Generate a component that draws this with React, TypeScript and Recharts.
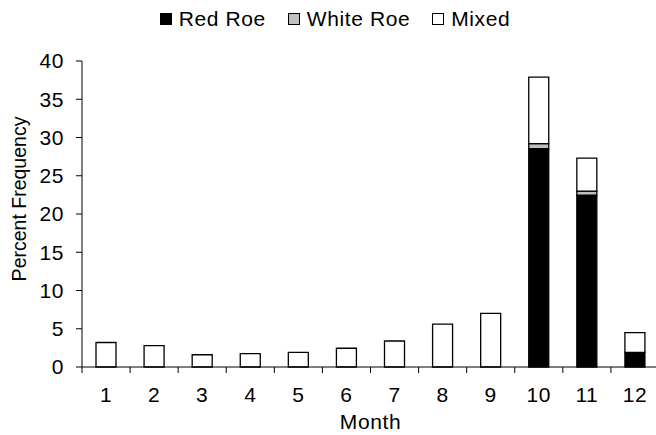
import { BarChart, Bar, XAxis, YAxis, Legend } from "recharts";

const months = ["1", "2", "3", "4", "5", "6", "7", "8", "9", "10", "11", "12"];
const redRoe = [0, 0, 0, 0, 0, 0, 0, 0, 0, 28.55, 22.45, 1.9];
const whiteRoe = [0, 0, 0, 0, 0, 0, 0, 0, 0, 0.65, 0.55, 0];
const mixed = [3.2, 2.8, 1.6, 1.75, 1.9, 2.45, 3.4, 5.6, 7.0, 8.7, 4.3, 2.6];
const yTicks = [0, 5, 10, 15, 20, 25, 30, 35, 40];

const data = months.map((m, i) => ({
  month: m,
  red: redRoe[i],
  white: whiteRoe[i],
  mixed: mixed[i],
}));

const W = 660;
const H = 435;
const Y_AXIS_W = 82;
const RIGHT = 1;
const BAND = (W - Y_AXIS_W - RIGHT) / months.length;
const FONT = "'Liberation Sans', Arial, sans-serif";
const SPACING = "0.6px";

const series = [
  { key: "red", name: "Red Roe", fill: "#000000" },
  { key: "white", name: "White Roe", fill: "#bfbfbf" },
  { key: "mixed", name: "Mixed", fill: "#ffffff" },
];

function MonthTick({ x, y, payload }: any) {
  // tick marks sit on the category boundaries, labels in the middle
  const left = x - BAND / 2;
  return (
    <g>
      <line x1={left} x2={left} y1={y - 20} y2={y - 14} stroke="#000" strokeWidth={1} />
      <text
        x={x}
        y={y}
        dy="0.71em"
        textAnchor="middle"
        fontSize={21}
        fontFamily={FONT}
        fill="#000"
        style={{ letterSpacing: SPACING }}
      >
        {payload.value}
      </text>
    </g>
  );
}

function LegendContent() {
  return (
    <div
      style={{
        display: "flex",
        justifyContent: "center",
        fontFamily: FONT,
        fontSize: 21,
        letterSpacing: SPACING,
        color: "#000",
        paddingLeft: 32,
      }}
    >
      {series.map((s) => (
        <div key={s.key} style={{ display: "flex", alignItems: "center", marginRight: 22 }}>
          <span
            style={{
              width: 10,
              height: 10,
              background: s.fill,
              border: "1px solid #000",
              marginRight: 7,
              display: "inline-block",
            }}
          />
          <span>{s.name}</span>
        </div>
      ))}
    </div>
  );
}

export default function App() {
  return (
    <div style={{ position: "absolute", left: 0, top: 0, width: 656, height: H, overflow: "hidden", background: "#fff" }}>
      <BarChart width={W} height={H} data={data} margin={{ top: 61, right: RIGHT, bottom: 0, left: 0 }} barSize={20}>
        <XAxis
          dataKey="month"
          height={68}
          tickLine={false}
          tickSize={0}
          tickMargin={20}
          axisLine={{ stroke: "#000", strokeWidth: 1 }}
          tick={<MonthTick />}
          interval={0}
          label={{
            value: "Month",
            position: "insideBottom",
            offset: 6,
            fontSize: 21,
            fontFamily: FONT,
            fill: "#000",
            style: { letterSpacing: SPACING },
          }}
        />
        <YAxis
          width={Y_AXIS_W}
          domain={[0, 40]}
          ticks={yTicks}
          interval={0}
          tickSize={6}
          tickMargin={12}
          axisLine={{ stroke: "#000", strokeWidth: 1 }}
          tickLine={{ stroke: "#000", strokeWidth: 1 }}
          tick={{ fontSize: 21, fontFamily: FONT, fill: "#000", style: { letterSpacing: SPACING } }}
          label={() => (
            <text
              x={19}
              y={199}
              transform="rotate(-90, 19, 199)"
              textAnchor="middle"
              dominantBaseline="central"
              fontSize={19.5}
              fontFamily={FONT}
              fill="#000"
            >
              Percent Frequency
            </text>
          )}
        />
        <Legend
          layout="horizontal"
          verticalAlign="middle"
          align="center"
          wrapperStyle={{ top: 7, left: 0, width: W, height: 26 }}
          content={<LegendContent />}
        />
        {series.map((s) => (
          <Bar
            key={s.key}
            dataKey={s.key}
            name={s.name}
            stackId="roe"
            fill={s.fill}
            stroke="#000"
            strokeWidth={1.3}
            isAnimationActive={false}
          />
        ))}
      </BarChart>
    </div>
  );
}
